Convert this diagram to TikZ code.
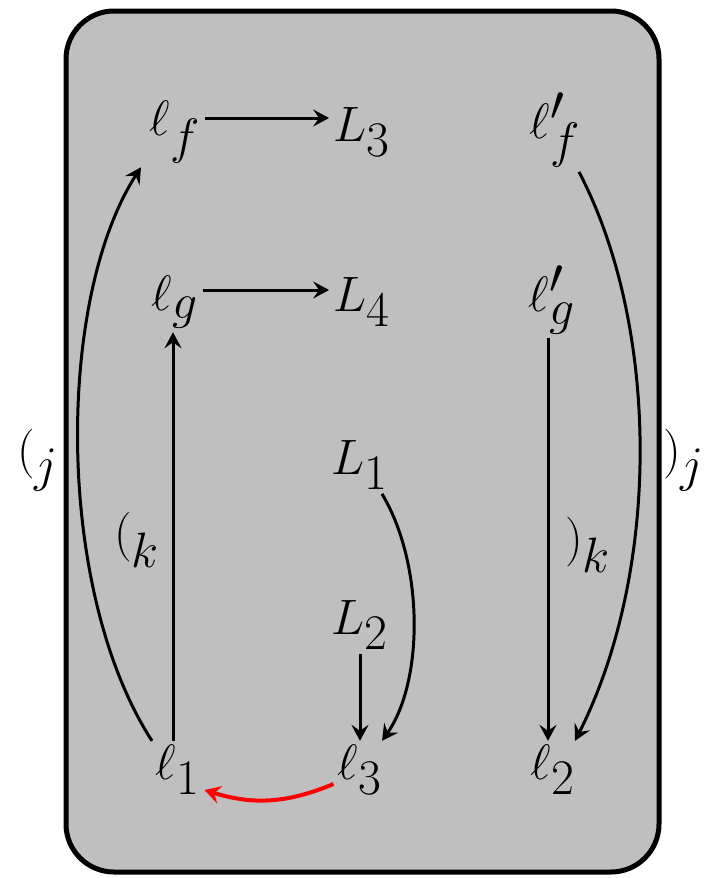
\documentclass[tikz,border=0pt]{standalone}
\usetikzlibrary{arrows.meta}
\definecolor{Panel}{HTML}{BFBFBF}
\tikzset{
  obj/.style={inner sep=2pt, font=\fontsize{35}{42}\selectfont},
  lbl/.style={inner sep=0pt, font=\fontsize{35}{42}\selectfont},
  arr/.style={-{Stealth[length=8pt,width=8.5pt,inset=3pt]}, line width=1.5pt, draw=black},
  redarr/.style={-{Stealth[length=8pt,width=9pt,inset=3pt]}, line width=2pt, draw=red}
}
\begin{document}
\begin{tikzpicture}[x=0.5pt,y=-0.5pt]
  \useasboundingbox (0,0) rectangle (706,878);
  \draw[fill=Panel, line width=2.5pt, rounded corners=24pt] (66,11) rectangle (659,872);
  % objects
  \node[obj] (lf) at (175,132) {$\ell_f$};
  \node[obj] (L3) at (362,132) {$L_3$};
  \node[obj] (lfp) at (555,130) {$\ell'_f$};
  \node[obj] (lg) at (175,302) {$\ell_g$};
  \node[obj] (L4) at (362,302) {$L_4$};
  \node[obj] (lgp) at (552,300) {$\ell'_g$};
  \node[obj] (L1) at (360,465) {$L_1$};
  \node[obj] (L2) at (360,625) {$L_2$};
  \node[obj] (l1) at (178,770) {$\ell_1$};
  \node[obj] (l3) at (360,770) {$\ell_3$};
  \node[obj] (l2) at (553,770) {$\ell_2$};
  % brackets
  \node[lbl] (pj) at (38,460) {$(_j$};
  \node[lbl] (qj) at (684,460) {$)_j$};
  \node[lbl] (pk) at (137,540) {$(_k$};
  \node[lbl] (qk) at (588,545) {$)_k$};
  % arrows
  \draw[arr] ([yshift=7pt]lf.east) -- ([yshift=7pt]L3.west);
  \draw[arr] ([yshift=6pt]lg.east) -- ([yshift=6pt]L4.west);
  \draw[arr] ([xshift=-2.5pt]l1.north) -- ([xshift=-1pt]lg.south);
  \draw[arr] ([xshift=-13pt]l1.north) .. controls +(-97,-150) and +(-85,132) .. ([xshift=-17pt]lf.south);
  \draw[arr] ([xshift=11pt]L1.south) .. controls +(42,70) and +(42,-60) .. ([xshift=11pt]l3.north);
  \draw[arr] (L2) -- (l3);
  \draw[arr] ([xshift=-2pt]lgp.south) -- ([xshift=-2.5pt]l2.north);
  \draw[arr] ([xshift=12pt]lfp.south) .. controls +(81,155) and +(86,-170) .. ([xshift=11pt]l2.north);
  \draw[redarr] ([yshift=-7pt]l3.west) to[bend left=20] ([yshift=-10pt]l1.east);
\end{tikzpicture}
\end{document}
